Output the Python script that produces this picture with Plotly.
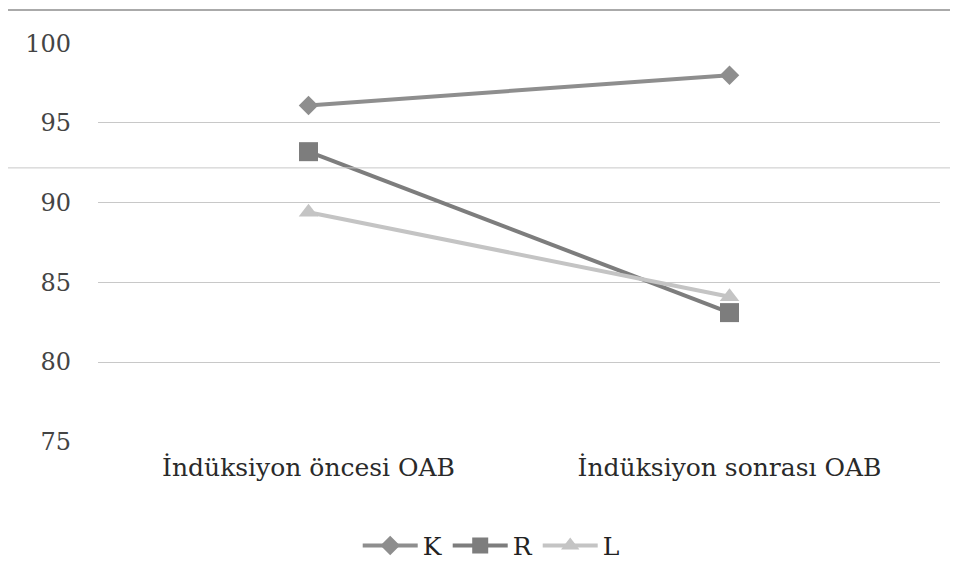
import plotly.graph_objects as go

categories = ["İndüksiyon öncesi OAB", "İndüksiyon sonrası OAB"]
series_names = ["K", "R", "L"]
k_values = [96.1, 98.0]
r_values = [93.2, 83.1]
l_values = [89.4, 84.1]
y_ticks = [75, 80, 85, 90, 95, 100]

colors = {"K": "#8e8e8e", "R": "#7d7d7d", "L": "#c4c4c4"}
symbols = {"K": "diamond", "R": "square", "L": "triangle-up"}
sizes = {"K": 15, "R": 19, "L": 17}

fig = go.Figure()
for name, vals in zip(series_names, [k_values, r_values, l_values]):
    fig.add_trace(go.Scatter(
        x=categories, y=vals, name=name, mode="lines+markers",
        line=dict(color=colors[name], width=4),
        marker=dict(symbol=symbols[name], size=sizes[name], color=colors[name]),
    ))

serif = "DejaVu Serif"
fig.update_layout(
    width=958, height=582,
    margin=dict(l=90, r=26, t=35, b=148, autoexpand=False),
    paper_bgcolor="white", plot_bgcolor="white",
    font=dict(family=serif, size=24, color="#333333"),
    showlegend=True,
    legend=dict(orientation="h", x=0.467, xanchor="center", y=-0.26, yanchor="middle",
                font=dict(family=serif, size=25, color="#222222"), traceorder="normal",
                itemwidth=55),
    xaxis=dict(showgrid=False, showline=False, zeroline=False, ticks="",
               tickfont=dict(family=serif, size=25, color="#2a2a2a"), range=[-0.5, 1.5],
               ticklabelstandoff=8),
    yaxis=dict(range=[74.98, 100.02], tickvals=y_ticks, showgrid=True,
               gridcolor="#c8c8c8", gridwidth=1, zeroline=False, showline=False,
               tickfont=dict(family=serif, size=24, color="#444444"), ticklabelstandoff=26),
    shapes=[
        dict(type="line", xref="paper", yref="paper", x0=-0.11, x1=1.03,
             y0=1.083, y1=1.083, line=dict(color="#aaaaaa", width=2)),
        dict(type="line", xref="paper", yref="paper", x0=-0.11, x1=-0.11,
             y0=1.083, y1=-0.37, line=dict(color="#aaaaaa", width=2)),
        dict(type="line", xref="paper", yref="paper", x0=-0.12, x1=1.03,
             y0=0.687, y1=0.687, line=dict(color="#c8c8c8", width=1)),
    ],
)

fig.write_html("out.html")
